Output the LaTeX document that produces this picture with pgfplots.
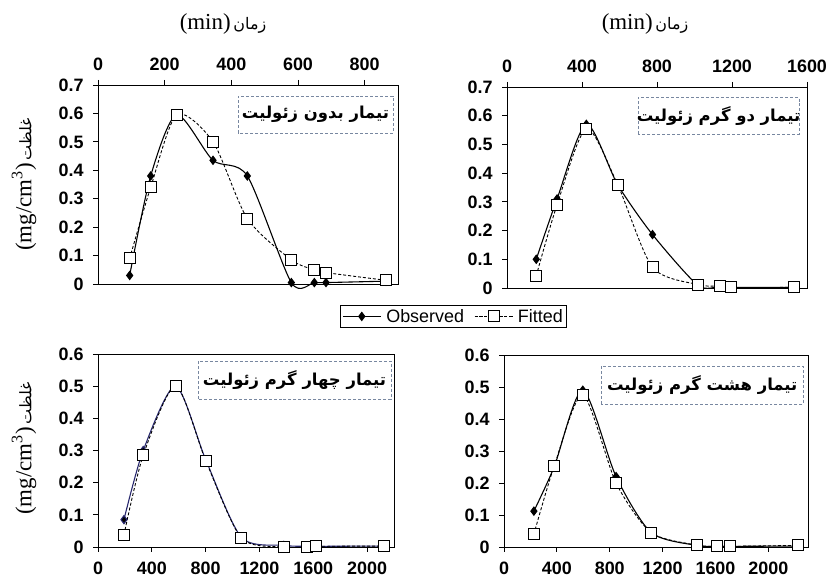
\documentclass[border=0pt]{standalone}
\usepackage{pgfplots}
\pgfplotsset{compat=1.18}
\usepackage{fontspec}
\setmainfont{Liberation Sans}
\newfontfamily\seriffont{Liberation Serif}
\newfontfamily\arabicfont[Script=Arabic]{DejaVu Sans}
\TeXXeTstate=1
\definecolor{boxc}{RGB}{120,135,160}
\definecolor{navy}{RGB}{40,40,110}

\tikzset{boxtext/.style={font=\arabicfont\bfseries\fontsize{16.5}{18}\selectfont}}

\pgfplotsset{
  panel/.style={
    scale only axis, anchor=south west, clip=false,
    axis line style={black, line width=0.8pt},
    tick style={black, line width=0.8pt},
    tick align=outside, major tick length=5bp,
    ytick pos=left,
    /pgf/number format/assume math mode=true,
    /pgf/number format/fixed,
    /pgf/number format/1000 sep={},
    ticklabel style={font=\fontsize{18}{20}\selectfont\bfseries},
    yticklabel style={xshift=-6bp},
    ymin=0, xmin=0,
  },
  toppanel/.style={panel, xtick pos=top, xticklabel pos=top,
    xticklabel style={yshift=6bp}},
  botpanel/.style={panel, xtick pos=bottom, xticklabel pos=bottom,
    xticklabel style={yshift=-6bp}},
  obs/.style={black, line width=1.1pt, smooth, tension=0.45, mark=diamond*, mark size=4bp,
    mark options={solid, fill=black}},
  fit/.style={black, line width=0.9pt, dash pattern=on 3pt off 2pt, smooth, tension=0.45,
    mark=square*, mark size=5.5bp, mark options={solid, fill=white, line width=0.9pt}},
  /pgfplots/legend image code/.code={%
    \draw[mark repeat=2,mark phase=2,#1] plot coordinates {(0bp,0bp)(19bp,0bp)(38bp,0bp)};},
}

\newcommand{\panelbox}[4]{%
  \draw[boxc, line width=0.8pt, dash pattern=on 3pt off 2pt] (rel axis cs:#1,#3) rectangle (rel axis cs:#2,#4);}

\begin{document}
\begin{tikzpicture}[x=1bp,y=1bp]
\useasboundingbox (0,0) rectangle (830,586);

% ---------- top-left ----------
\begin{axis}[toppanel, at={(98bp,302bp)}, width=300bp, height=199bp,
  xmax=900, ymax=0.7, xtick={0,200,...,800}, ytick={0,0.1,...,0.7},
  legend columns=2,
  legend style={at={(1.185,-0.163)}, anchor=center, draw=black, line width=0.8pt,
    font=\fontsize{18}{20}\selectfont, inner sep=1.5bp,
    /tikz/every odd column/.append style={column sep=3bp},
    /tikz/every even column/.append style={column sep=8bp}}]
\addplot[obs] coordinates {(95,0.03)(158,0.38)(236,0.595)(345,0.435)(448,0.38)(580,0.005)(649,0.005)(684,0.005)(864,0.01)};
\addlegendentry{Observed}
\addplot[fit] coordinates {(95,0.09)(158,0.34)(236,0.595)(345,0.50)(448,0.23)(580,0.085)(649,0.05)(684,0.04)(864,0.013)};
\addlegendentry{Fitted}
\panelbox{0.467}{0.983}{0.759}{0.945}
\node[boxtext] at (rel axis cs:0.725,0.852) {\beginR تیمار بدون زئولیت\endR};
\end{axis}

% ---------- top-right ----------
\begin{axis}[toppanel, at={(507bp,298bp)}, width=300bp, height=201bp,
  xmax=1600, ymax=0.7, xtick={0,400,...,1600}, ytick={0,0.1,...,0.7}]
\addplot[obs] coordinates {(156,0.10)(267,0.31)(423,0.57)(590,0.36)(776,0.186)(1017,0.01)(1134,0.005)(1195,0.002)(1532,0.002)};
\addplot[fit] coordinates {(156,0.043)(267,0.29)(423,0.555)(590,0.36)(776,0.072)(1017,0.012)(1134,0.006)(1195,0.002)(1532,0.002)};
\panelbox{0.437}{0.973}{0.766}{0.950}
\node[boxtext] at (rel axis cs:0.705,0.858) {\beginR تیمار دو گرم زئولیت\endR};
\end{axis}

% ---------- bottom-left ----------
\begin{axis}[botpanel, at={(98bp,39bp)}, width=296bp, height=193bp,
  xmax=2200, ymax=0.6, xtick={0,400,...,2000}, ytick={0,0.1,...,0.6}]
\addplot[obs, navy] coordinates {(193,0.085)(336,0.30)(577,0.50)(802,0.27)(1066,0.03)(1381,0.005)(1553,0.002)(1620,0.002)(2125,0.003)};
\addplot[fit] coordinates {(193,0.038)(336,0.285)(577,0.50)(802,0.267)(1066,0.028)(1381,0.0)(1553,0.0)(1620,0.002)(2125,0.003)};
\panelbox{0.338}{0.990}{0.767}{0.964}
\node[boxtext] at (rel axis cs:0.664,0.865) {\beginR تیمار چهار گرم زئولیت\endR};
\end{axis}

% ---------- bottom-right ----------
\begin{axis}[botpanel, at={(504bp,39bp)}, width=304bp, height=192bp,
  xmax=2300, ymax=0.6, xtick={0,400,...,2000}, ytick={0,0.1,...,0.6}]
\addplot[obs] coordinates {(226,0.112)(379,0.25)(596,0.49)(848,0.22)(1114,0.045)(1458,0.005)(1612,0.002)(1707,0.002)(2225,0.003)};
\addplot[fit] coordinates {(226,0.04)(379,0.252)(596,0.475)(848,0.20)(1114,0.045)(1458,0.006)(1612,0.002)(1707,0.002)(2225,0.005)};
\panelbox{0.319}{0.984}{0.745}{0.943}
\node[boxtext] at (rel axis cs:0.652,0.844) {\beginR تیمار هشت گرم زئولیت\endR};
\end{axis}

% ---------- axis titles ----------
\node at (223,562) {{\seriffont\fontsize{23}{25}\selectfont (min)} {\arabicfont\fontsize{16}{18}\selectfont\beginR زمان\endR}};
\node at (645,562) {{\seriffont\fontsize{23}{25}\selectfont (min)} {\arabicfont\fontsize{16}{18}\selectfont\beginR زمان\endR}};
\node[rotate=90] at (24,401.5) {{\seriffont\fontsize{23}{25}\selectfont (mg/cm\textsuperscript{3})} {\arabicfont\fontsize{16}{18}\selectfont\beginR غلظت\endR}};
\node[rotate=90] at (24,137.5) {{\seriffont\fontsize{23}{25}\selectfont (mg/cm\textsuperscript{3})} {\arabicfont\fontsize{16}{18}\selectfont\beginR غلظت\endR}};
\end{tikzpicture}
\end{document}
